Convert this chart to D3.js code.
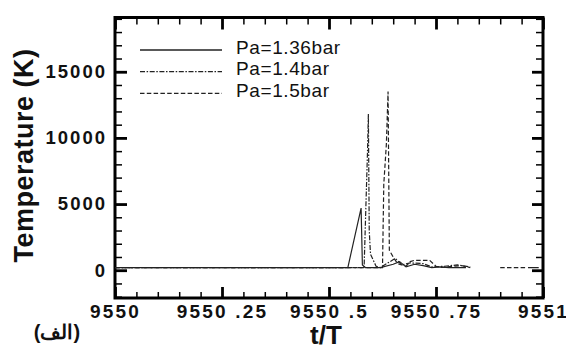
<!DOCTYPE html>
<html>
<head>
<meta charset="utf-8">
<script src="https://cdn.jsdelivr.net/npm/d3@7"></script>
<style>
  body { margin: 0; background: #fff; }
</style>
</head>
<body>
<svg id="chart" width="566" height="345"></svg>
<script>
'use strict'

// series (t/T, temperature in K), null = gap in the curve
const seriesNames = ['Pa=1.36bar', 'Pa=1.4bar', 'Pa=1.5bar']

const t136 = [9550, 9550.544, 9550.575, 9550.578, 9550.585, 9550.62, 9550.65, 9550.665, 9550.68, 9550.7, 9550.72, 9550.74, 9550.76, 9550.78, 9550.82, null, 9550.965, 9550.99]
const temp136 = [200, 200, 4700, 400, 200, 200, 450, 650, 250, 450, 350, 200, 250, 200, 200, null, 200, 200]

const t14 = [9550, 9550.582, 9550.59, 9550.592, 9550.594, 9550.597, 9550.61, 9550.62, 9550.64, 9550.655, 9550.67, 9550.69, 9550.72, 9550.74, 9550.77, 9550.8, 9550.83]
const temp14 = [200, 200, 9000, 11800, 3000, 1200, 300, 200, 600, 900, 400, 550, 500, 250, 300, 400, 250]

const t15 = [9550, 9550.625, 9550.628, 9550.634, 9550.638, 9550.641, 9550.65, 9550.66, 9550.68, 9550.69, 9550.7, 9550.735, 9550.75, 9550.76, 9550.79, 9550.81, 9550.83, null, 9550.9, 9550.96]
const temp15 = [200, 200, 6500, 9500, 13500, 1500, 1000, 500, 300, 650, 750, 750, 300, 200, 300, 350, 200, null, 200, 200]

// tick values and their labels
const xMajor = [9550, 9550.25, 9550.5, 9550.75, 9551]
const xLabels = ['9550', '9550 .25', '9550 .5', '9550 .75', '9551']
const yMajor = [0, 5000, 10000, 15000]

const font = '"Liberation Sans", Arial, sans-serif'
const svg = d3.select('#chart')
const plotL = 115, plotR = 543, plotT = 17.5, plotB = 298

const x = d3.scaleLinear().domain([9550, 9551]).range([plotL, plotR])
const y = d3.scaleLinear().domain([-2100, 19100]).range([plotB, plotT])

const xMinor = d3.range(1, 20).map(i => 9550 + i * 0.05).filter(v => !xMajor.some(m => Math.abs(m - v) < 1e-6))
const yMinor = d3.range(-2000, 19001, 1000).filter(v => v % 5000 !== 0)

// frame
svg.append('rect')
  .attr('x', plotL).attr('y', plotT)
  .attr('width', plotR - plotL).attr('height', plotB - plotT)
  .attr('fill', 'none').attr('stroke', '#000').attr('stroke-width', 3)

// ticks, all pointing inwards
function addTicks(axis, tx, ty, width) {
  const g = svg.append('g').attr('transform', 'translate(' + tx + ',' + ty + ')').call(axis)
  g.select('.domain').remove()
  g.selectAll('.tick line').attr('stroke', '#000').attr('stroke-width', width)
  g.selectAll('.tick text').attr('font-family', font).attr('font-weight', 'bold').attr('fill', '#111')
  return g
}

const fmtX = d => xLabels[xMajor.indexOf(d)]
const noLabel = () => ''

addTicks(d3.axisBottom(x).tickValues(xMinor).tickSize(-6).tickFormat(noLabel), 0, plotB, 1.5)
addTicks(d3.axisTop(x).tickValues(xMinor).tickSize(-7).tickFormat(noLabel), 0, plotT, 1.5)
addTicks(d3.axisTop(x).tickValues(xMajor).tickSize(-12).tickFormat(noLabel), 0, plotT, 2.8)
const xa = addTicks(d3.axisBottom(x).tickValues(xMajor).tickSize(-11).tickPadding(7).tickFormat(fmtX), 0, plotB, 2.8)

addTicks(d3.axisLeft(y).tickValues(yMinor).tickSize(-7).tickFormat(noLabel), plotL, 0, 1.5)
addTicks(d3.axisRight(y).tickValues(yMinor).tickSize(-7).tickFormat(noLabel), plotR, 0, 1.5)
addTicks(d3.axisRight(y).tickValues(yMajor).tickSize(-11).tickFormat(noLabel), plotR, 0, 2.8)
const ya = addTicks(d3.axisLeft(y).tickValues(yMajor).tickSize(-12).tickPadding(8).tickFormat(d3.format('d')), plotL, 0, 2.8)

xa.selectAll('text').attr('font-size', 19).attr('letter-spacing', 2.2)
ya.selectAll('text').attr('font-size', 18.5).attr('letter-spacing', 2)

// curves
const lineGen = d3.line()
  .defined(d => d[0] !== null)
  .x(d => x(d[0]))
  .y(d => y(d[1]))

const curves = [
  { pts: d3.zip(t136, temp136), dash: null },
  { pts: d3.zip(t14, temp14), dash: '5,1.6,1.5,1.6' },
  { pts: d3.zip(t15, temp15), dash: '4.5,2.3' }
]

svg.append('g').selectAll('path')
  .data(curves)
  .enter().append('path')
    .attr('d', d => lineGen(d.pts))
    .attr('fill', 'none')
    .attr('stroke', '#222')
    .attr('stroke-width', 1.2)
    .attr('stroke-dasharray', d => d.dash)

// legend
const legend = svg.append('g').selectAll('g')
  .data(curves)
  .enter().append('g')
    .attr('transform', (d, i) => 'translate(0,' + (50 + i * 21.7) + ')')

legend.append('line')
  .attr('x1', 140).attr('x2', 222)
  .attr('stroke', '#222').attr('stroke-width', 1.3)
  .attr('stroke-dasharray', d => d.dash)

legend.append('text')
  .attr('x', 236).attr('y', 3.5)
  .attr('font-family', font).attr('fill', '#111')
  .attr('font-size', 19).attr('letter-spacing', 0.6)
  .text((d, i) => seriesNames[i])

// axis titles
svg.append('text')
  .attr('transform', 'translate(33,155.5) rotate(-90)')
  .attr('text-anchor', 'middle')
  .attr('font-family', font).attr('fill', '#111')
  .attr('font-size', 27).attr('font-weight', 'bold').attr('letter-spacing', 0.5)
  .text('Temperature (K)')

svg.append('text')
  .attr('x', 326).attr('y', 344)
  .attr('text-anchor', 'middle')
  .attr('font-family', font).attr('fill', '#111')
  .attr('font-size', 26).attr('font-weight', 'bold')
  .text('t/T')

svg.append('text')
  .attr('x', 57).attr('y', 339)
  .attr('text-anchor', 'middle')
  .attr('font-family', font).attr('fill', '#111')
  .attr('font-size', 20).attr('font-weight', 'bold')
  .attr('direction', 'rtl')
  .text('(الف)')
</script>
</body>
</html>
